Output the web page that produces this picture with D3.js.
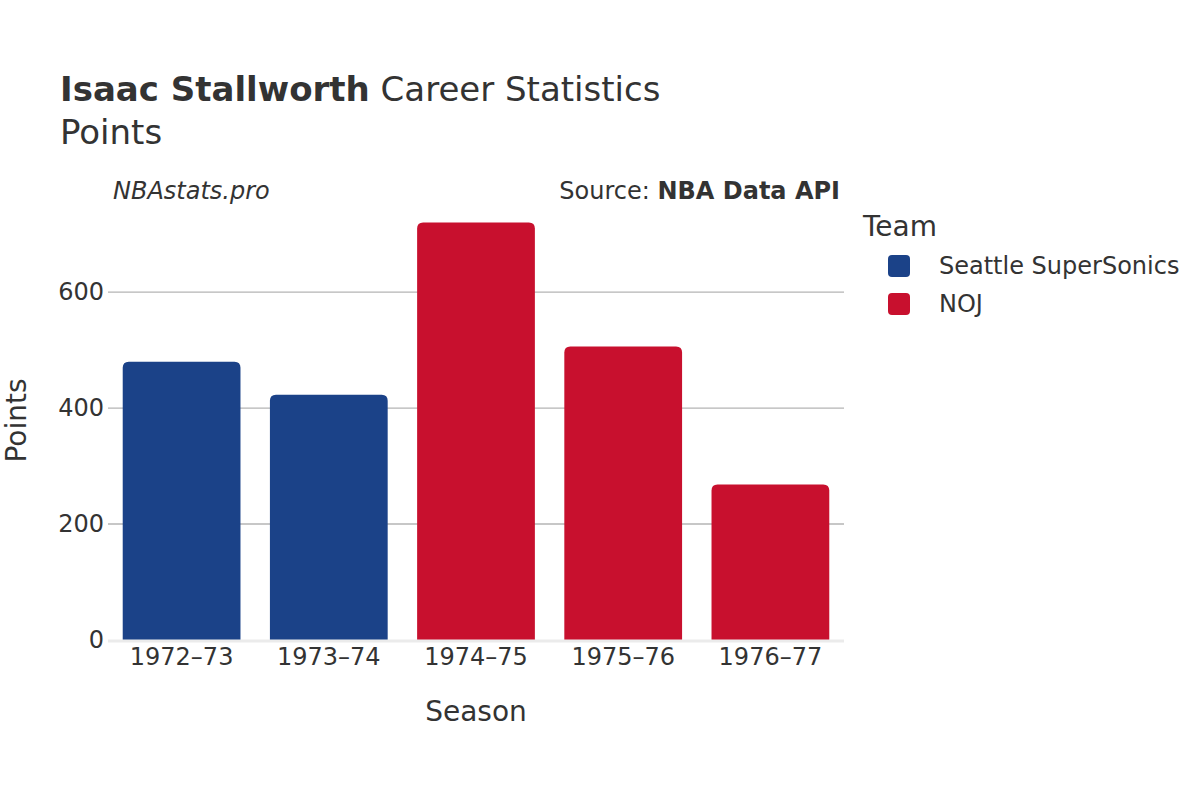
<!DOCTYPE html>
<html>
<head>
<meta charset="utf-8">
<script src="https://cdn.jsdelivr.net/npm/d3@7"></script>
<style>
  body { margin: 0; background: #fff; }
  text { font-family: "DejaVu Sans", sans-serif; fill: #333; }
</style>
</head>
<body>
<div id="chart"></div>
<script>
var seasons = ["1972–73", "1973–74", "1974–75", "1975–76", "1976–77"];
var points = [480, 423, 720, 506, 268];
var teams = ["SEA", "SEA", "NOJ", "NOJ", "NOJ"];
var teamNames = ["Seattle SuperSonics", "NOJ"];
var teamKeys = ["SEA", "NOJ"];
var teamColors = ["#1b4288", "#c8102e"];
var yTicks = [0, 200, 400, 600];

var width = 1200, height = 800;
var plotLeft = 108, plotRight = 844, plotBottom = 640, plotTop = 201;

var svg = d3.select("#chart").append("svg")
    .attr("width", width)
    .attr("height", height);

var x = d3.scaleBand().domain(seasons).range([plotLeft, plotRight])
    .paddingInner(0.2).paddingOuter(0.1);
var y = d3.scaleLinear().domain([0, 757]).range([plotBottom, plotTop]);
var color = d3.scaleOrdinal().domain(teamKeys).range(teamColors);

// gridlines
svg.append("g").selectAll("line")
    .data(yTicks.filter(function (d) { return d > 0; }))
  .enter().append("line")
    .attr("x1", plotLeft).attr("x2", plotRight)
    .attr("y1", function (d) { return y(d); })
    .attr("y2", function (d) { return y(d); })
    .attr("stroke", "#b4b4b4")
    .attr("stroke-width", 1.3);

// bars with rounded tops
var r = 6;
svg.append("g").selectAll("path")
    .data(seasons)
  .enter().append("path")
    .attr("fill", function (d, i) { return color(teams[i]); })
    .attr("d", function (d, i) {
        var x0 = x(d), x1 = x(d) + x.bandwidth(), y0 = y(0), y1 = y(points[i]);
        return "M" + x0 + "," + y0 + "V" + (y1 + r) +
            "Q" + x0 + "," + y1 + " " + (x0 + r) + "," + y1 +
            "H" + (x1 - r) +
            "Q" + x1 + "," + y1 + " " + x1 + "," + (y1 + r) +
            "V" + y0 + "Z";
    });

// zero line
svg.append("line")
    .attr("x1", plotLeft).attr("x2", plotRight)
    .attr("y1", y(0) + 1).attr("y2", y(0) + 1)
    .attr("stroke", "#ebebeb")
    .attr("stroke-width", 3);

// y axis labels
var yAxis = svg.append("g")
    .attr("transform", "translate(" + plotLeft + ",0)")
    .call(d3.axisLeft(y).tickValues(yTicks).tickSize(0).tickPadding(4));
yAxis.select(".domain").remove();
yAxis.selectAll("text")
    .attr("font-size", 24)
    .attr("font-family", "DejaVu Sans, sans-serif")
    .attr("fill", "#333");

// x axis labels
var xAxis = svg.append("g")
    .attr("transform", "translate(0," + plotBottom + ")")
    .call(d3.axisBottom(x).tickSize(0).tickPadding(8));
xAxis.select(".domain").remove();
xAxis.selectAll("text")
    .attr("font-size", 24)
    .attr("font-family", "DejaVu Sans, sans-serif")
    .attr("fill", "#333");

// titles
var title = svg.append("text").attr("x", 60).attr("y", 101).attr("font-size", 34);
title.append("tspan").attr("font-weight", "bold").text("Isaac Stallworth");
title.append("tspan").text(" Career Statistics");
svg.append("text").attr("x", 60).attr("y", 144).attr("font-size", 34).text("Points");

svg.append("text").attr("x", 113).attr("y", 199)
    .attr("font-size", 24).attr("font-style", "italic").text("NBAstats.pro");
var src = svg.append("text").attr("x", 840).attr("y", 199)
    .attr("font-size", 24).attr("text-anchor", "end");
src.append("tspan").text("Source: ");
src.append("tspan").attr("font-weight", "bold").text("NBA Data API");

svg.append("text").attr("x", (plotLeft + plotRight) / 2).attr("y", 721)
    .attr("font-size", 28).attr("text-anchor", "middle").text("Season");
svg.append("text")
    .attr("transform", "translate(26," + ((plotTop + plotBottom) / 2) + ") rotate(-90)")
    .attr("font-size", 28).attr("text-anchor", "middle").text("Points");

// legend
svg.append("text").attr("x", 863).attr("y", 236).attr("font-size", 28).text("Team");
var leg = svg.append("g").selectAll("g")
    .data(teamKeys)
  .enter().append("g")
    .attr("transform", function (d, i) { return "translate(888," + (255 + i * 38) + ")"; });
leg.append("rect")
    .attr("width", 22).attr("height", 22).attr("rx", 4)
    .attr("fill", function (d) { return color(d); });
leg.append("text")
    .attr("x", 51).attr("y", 19)
    .attr("font-size", 24)
    .text(function (d, i) { return teamNames[i]; });
</script>
</body>
</html>
